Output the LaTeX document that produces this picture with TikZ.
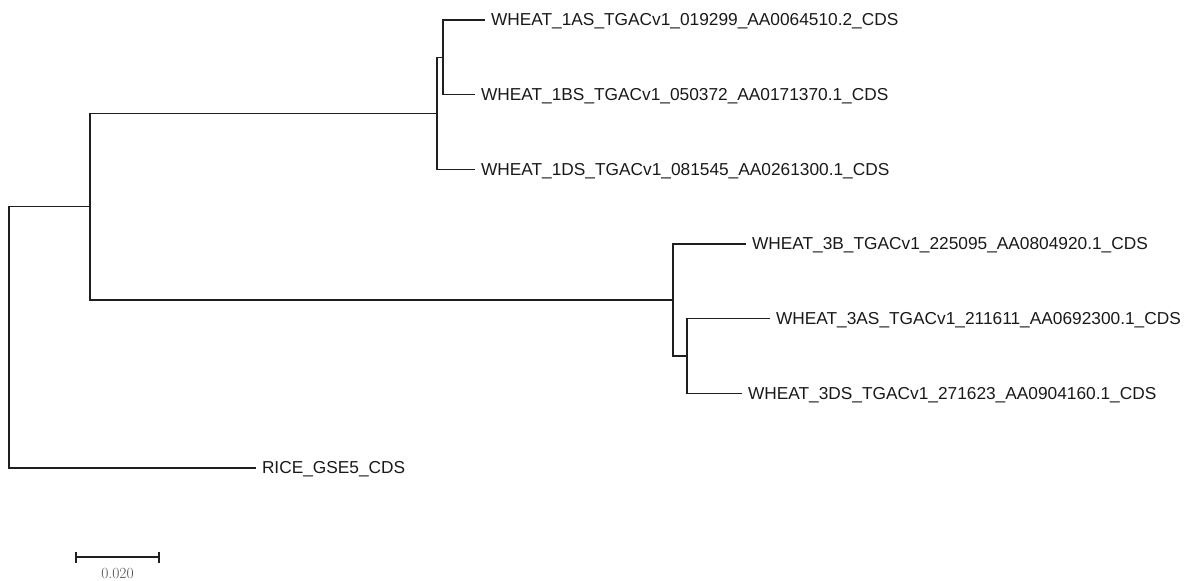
\documentclass[tikz,border=0pt]{standalone}
\usepackage{fontspec}
\setmainfont{Liberation Sans}
\newfontfamily\lmfont{Latin Modern Roman}
\begin{document}
\begin{tikzpicture}[x=1bp,y=-1bp,
  branch/.style={line width=1.4bp,draw=black!88},
  leaf/.style={anchor=west,inner xsep=6bp,inner ysep=0pt,outer sep=0pt,
    text height=12.4bp,text depth=0.6bp,text=black!90,
    font=\fontsize{17.3bp}{20bp}\selectfont},
  scalelabel/.style={inner sep=0pt,text=black!68,font=\lmfont\fontsize{15.5bp}{17bp}\selectfont}]
\useasboundingbox (0,0) rectangle (1187,581);

% leaves
\node[leaf] (a1) at (485,20)    {WHEAT\_1AS\_TGACv1\_019299\_AA0064510.2\_CDS};
\node[leaf] (b1) at (475,94.7)  {WHEAT\_1BS\_TGACv1\_050372\_AA0171370.1\_CDS};
\node[leaf] (d1) at (475,169.3) {WHEAT\_1DS\_TGACv1\_081545\_AA0261300.1\_CDS};
\node[leaf] (b3) at (746,244)   {WHEAT\_3B\_TGACv1\_225095\_AA0804920.1\_CDS};
\node[leaf] (a3) at (770,318.7) {WHEAT\_3AS\_TGACv1\_211611\_AA0692300.1\_CDS};
\node[leaf] (d3) at (742,393.3) {WHEAT\_3DS\_TGACv1\_271623\_AA0904160.1\_CDS};
\node[leaf] (rice) at (256,468) {RICE\_GSE5\_CDS};

% internal nodes
\coordinate (n1ab) at (443,57.3);
\coordinate (n1)   at (437,113.3);
\coordinate (n3ad) at (687,356);
\coordinate (n3)   at (673,300);
\coordinate (nw)   at (90,206.7);
\coordinate (root) at (9,337.3);

% branches (rectangular cladogram)
\draw[branch] (n1ab) |- (a1.west);
\draw[branch] (n1ab) |- (b1.west);
\draw[branch] (n1) |- (n1ab);
\draw[branch] (n1) |- (d1.west);
\draw[branch] (n3ad) |- (a3.west);
\draw[branch] (n3ad) |- (d3.west);
\draw[branch] (n3) |- (b3.west);
\draw[branch] (n3) |- (n3ad);
\draw[branch] (nw) |- (n1);
\draw[branch] (nw) |- (n3);
\draw[branch] (root) |- (nw);
\draw[branch] (root) |- (rice.west);

% scale bar
\coordinate (s0) at (76,557);
\coordinate (s1) at (159,557);
\draw[branch,line width=1.2bp] (s0) -- (s1);
\draw[branch,line width=1.2bp] ([yshift=-5.5bp]s0) -- ([yshift=5.5bp]s0);
\draw[branch,line width=1.2bp] ([yshift=-5.5bp]s1) -- ([yshift=5.5bp]s1);
\node[scalelabel] (slab) at (117.5,573) {0.020};
\end{tikzpicture}
\end{document}
